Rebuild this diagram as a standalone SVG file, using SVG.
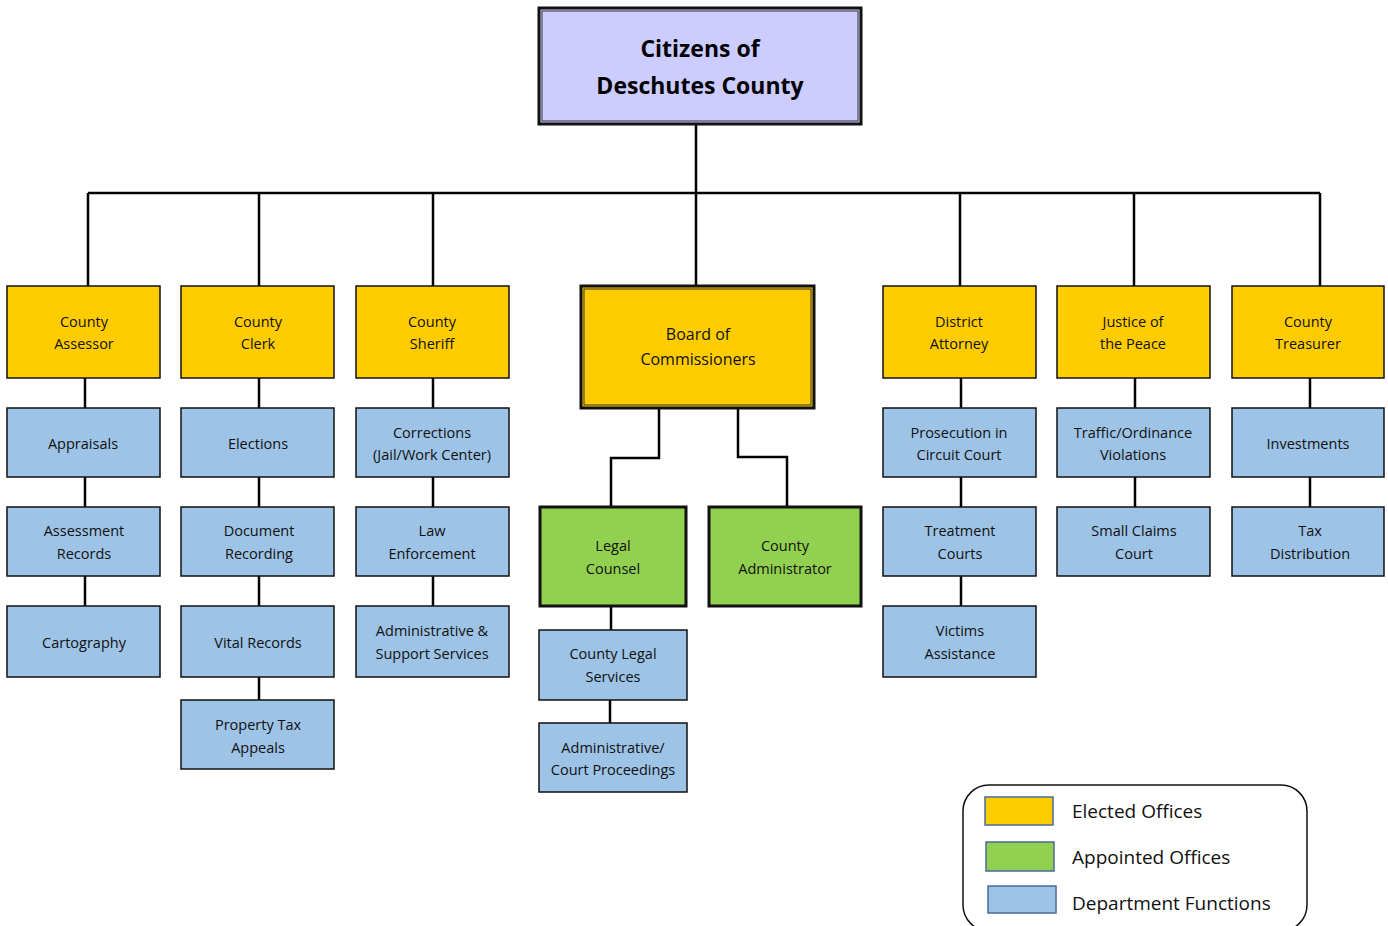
<svg xmlns="http://www.w3.org/2000/svg" width="1388" height="926" viewBox="0 0 1388 926">
<style>
.t{font-family:"Open Sans","Liberation Sans",sans-serif;font-size:14.5px;fill:#111;text-anchor:middle}
.big{font-family:"Open Sans","Liberation Sans",sans-serif;font-size:23px;font-weight:bold;fill:#000;text-anchor:middle}
.lg{font-family:"Open Sans","Liberation Sans",sans-serif;font-size:19px;fill:#111}
.y{fill:#FFCC00;stroke:#111;stroke-width:1.5}
.b{fill:#9DC3E6;stroke:#111;stroke-width:1.5}
.g{fill:#92D050;stroke:#111;stroke-width:3}
.c{fill:none;stroke:#000;stroke-width:2.5}
</style>
<rect width="1388" height="926" fill="#fff"/>
<g id="connectors">
<path class="c" d="M696 125V286M88 193H1320M88 193V286M259 193V286M433 193V286M960 193V286M1134 193V286M1320 193V286"/>
<path class="c" d="M85 378V408M85 477V507M85 576V606M259 378V408M259 477V507M259 576V606M259 677V700M433 378V408M433 477V507M433 576V606M961 378V408M961 477V507M961 576V606M1135 378V408M1135 477V507M1310 378V408M1310 477V507"/>
<path class="c" d="M659 409V458H611V507M738 409V457H787V507M611 606V630M610 700V723"/>
</g>
<g id="citizens">
<rect x="539" y="8" width="322" height="116" fill="#CCCCFF" stroke="#111" stroke-width="3"/>
<rect x="542" y="11" width="316" height="110" fill="none" stroke="#333" stroke-width="1"/>
<text class="big" x="700" y="57">Citizens of</text>
<text class="big" x="700" y="94">Deschutes County</text>
</g>
<g id="assessor"><rect class="y" x="7" y="286" width="153" height="92"/><text class="t" x="84" y="327">County</text><text class="t" x="84" y="349">Assessor</text></g>
<g id="clerk"><rect class="y" x="181" y="286" width="153" height="92"/><text class="t" x="258" y="327">County</text><text class="t" x="258" y="349">Clerk</text></g>
<g id="sheriff"><rect class="y" x="356" y="286" width="153" height="92"/><text class="t" x="432" y="327">County</text><text class="t" x="432" y="349">Sheriff</text></g>
<g id="board"><rect x="581" y="286" width="233" height="122" fill="#FFCC00" stroke="#111" stroke-width="3"/><rect x="584" y="289" width="227" height="116" fill="none" stroke="#333" stroke-width="1"/><text class="t" x="698" y="340" style="font-size:16px">Board of</text><text class="t" x="698" y="365" style="font-size:16px">Commissioners</text></g>
<g id="da"><rect class="y" x="883" y="286" width="153" height="92"/><text class="t" x="959" y="327">District</text><text class="t" x="959" y="349">Attorney</text></g>
<g id="jp"><rect class="y" x="1057" y="286" width="153" height="92"/><text class="t" x="1133" y="327">Justice of</text><text class="t" x="1133" y="349">the Peace</text></g>
<g id="treasurer"><rect class="y" x="1232" y="286" width="152" height="92"/><text class="t" x="1308" y="327">County</text><text class="t" x="1308" y="349">Treasurer</text></g>

<g id="appraisals"><rect class="b" x="7" y="408" width="153" height="69"/><text class="t" x="83" y="449">Appraisals</text></g>
<g id="assessrec"><rect class="b" x="7" y="507" width="153" height="69"/><text class="t" x="84" y="536">Assessment</text><text class="t" x="84" y="559">Records</text></g>
<g id="cartography"><rect class="b" x="7" y="606" width="153" height="71"/><text class="t" x="84" y="648">Cartography</text></g>

<g id="elections"><rect class="b" x="181" y="408" width="153" height="69"/><text class="t" x="258" y="449">Elections</text></g>
<g id="docrec"><rect class="b" x="181" y="507" width="153" height="69"/><text class="t" x="259" y="536">Document</text><text class="t" x="259" y="559">Recording</text></g>
<g id="vital"><rect class="b" x="181" y="606" width="153" height="71"/><text class="t" x="258" y="648">Vital Records</text></g>
<g id="ptax"><rect class="b" x="181" y="700" width="153" height="69"/><text class="t" x="258" y="730">Property Tax</text><text class="t" x="258" y="753">Appeals</text></g>

<g id="corrections"><rect class="b" x="356" y="408" width="153" height="69"/><text class="t" x="432" y="438">Corrections</text><text class="t" x="432" y="460">(Jail/Work Center)</text></g>
<g id="law"><rect class="b" x="356" y="507" width="153" height="69"/><text class="t" x="432" y="536">Law</text><text class="t" x="432" y="559">Enforcement</text></g>
<g id="adminsupport"><rect class="b" x="356" y="606" width="153" height="71"/><text class="t" x="432" y="636">Administrative &amp;</text><text class="t" x="432" y="659">Support Services</text></g>

<g id="legal"><rect class="g" x="540" y="507" width="146" height="99"/><text class="t" x="613" y="551">Legal</text><text class="t" x="613" y="574">Counsel</text></g>
<g id="admin"><rect class="g" x="709" y="507" width="152" height="99"/><text class="t" x="785" y="551">County</text><text class="t" x="785" y="574">Administrator</text></g>
<g id="cls"><rect class="b" x="539" y="630" width="148" height="70"/><text class="t" x="613" y="659">County Legal</text><text class="t" x="613" y="682">Services</text></g>
<g id="acp"><rect class="b" x="539" y="723" width="148" height="69"/><text class="t" x="613" y="753">Administrative/</text><text class="t" x="613" y="775">Court Proceedings</text></g>

<g id="prosecution"><rect class="b" x="883" y="408" width="153" height="69"/><text class="t" x="959" y="438">Prosecution in</text><text class="t" x="959" y="460">Circuit Court</text></g>
<g id="treatment"><rect class="b" x="883" y="507" width="153" height="69"/><text class="t" x="960" y="536">Treatment</text><text class="t" x="960" y="559">Courts</text></g>
<g id="victims"><rect class="b" x="883" y="606" width="153" height="71"/><text class="t" x="960" y="636">Victims</text><text class="t" x="960" y="659">Assistance</text></g>

<g id="traffic"><rect class="b" x="1057" y="408" width="153" height="69"/><text class="t" x="1133" y="438">Traffic/Ordinance</text><text class="t" x="1133" y="460">Violations</text></g>
<g id="smallclaims"><rect class="b" x="1057" y="507" width="153" height="69"/><text class="t" x="1134" y="536">Small Claims</text><text class="t" x="1134" y="559">Court</text></g>

<g id="investments"><rect class="b" x="1232" y="408" width="152" height="69"/><text class="t" x="1308" y="449">Investments</text></g>
<g id="taxdist"><rect class="b" x="1232" y="507" width="152" height="69"/><text class="t" x="1310" y="536">Tax</text><text class="t" x="1310" y="559">Distribution</text></g>

<g id="legend">
<rect x="963" y="785" width="344" height="146" rx="26" fill="#fff" stroke="#111" stroke-width="1.5"/>
<rect x="985" y="797" width="68" height="28" fill="#FFCC00" stroke="#4A6A9A" stroke-width="1.5"/>
<rect x="986" y="842" width="68" height="29" fill="#92D050" stroke="#4A6A9A" stroke-width="1.5"/>
<rect x="988" y="886" width="68" height="27" fill="#9DC3E6" stroke="#4A6A9A" stroke-width="1.5"/>
<text class="lg" x="1072" y="818">Elected Offices</text>
<text class="lg" x="1072" y="864">Appointed Offices</text>
<text class="lg" x="1072" y="910">Department Functions</text>
</g>
</svg>
